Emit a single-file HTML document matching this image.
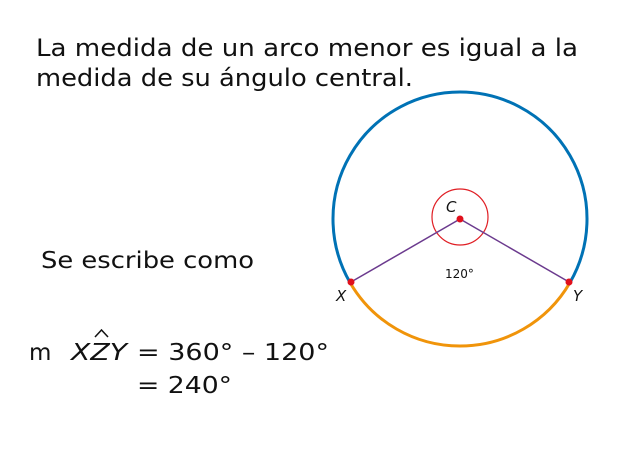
<!DOCTYPE html>
<html><head><meta charset="utf-8"><style>
body{margin:0;background:#fff}
svg{display:block}
text{font-family:"DejaVu Sans","Liberation Sans",sans-serif;fill:#111}
</style></head><body>
<svg width="643" height="450" viewBox="0 0 643 450">
<text x="36" y="56" font-size="24" textLength="542" lengthAdjust="spacingAndGlyphs">La medida de un arco menor es igual a la</text>
<text x="36" y="86" font-size="24" textLength="377" lengthAdjust="spacingAndGlyphs">medida de su ángulo central.</text>
<text x="41" y="268" font-size="23" textLength="213" lengthAdjust="spacingAndGlyphs">Se escribe como</text>
<g font-size="23">
<text x="29" y="360">m</text>
<text x="71" y="360" font-style="italic" textLength="56" lengthAdjust="spacingAndGlyphs">XZY</text>
<path d="M95 337 L101.5 330 L108 337" fill="none" stroke="#111" stroke-width="1.5"/>
<text x="137" y="360" textLength="192" lengthAdjust="spacingAndGlyphs">= 360° – 120°</text>
<text x="137" y="393" textLength="95" lengthAdjust="spacingAndGlyphs">= 240°</text>
</g>
<g>
<path d="M350.0 282.5 A127 127 0 1 1 570.0 282.5" fill="none" stroke="#0072b5" stroke-width="3"/>
<path d="M350.0 282.5 A127 127 0 0 0 570.0 282.5" fill="none" stroke="#f0940a" stroke-width="3"/>
<circle cx="460" cy="217" r="28" fill="none" stroke="#e01e24" stroke-width="1.2"/>
<line x1="460" y1="219" x2="351" y2="282" stroke="#6b3a8e" stroke-width="1.5"/>
<line x1="460" y1="219" x2="569" y2="282" stroke="#6b3a8e" stroke-width="1.5"/>
<circle cx="460" cy="219" r="3.5" fill="#e0101c"/>
<circle cx="351" cy="282" r="3.5" fill="#e0101c"/>
<circle cx="569" cy="282" r="3.5" fill="#e0101c"/>
<text x="446" y="212" font-size="15" font-style="italic">C</text>
<text x="336" y="301" font-size="15" font-style="italic">X</text>
<text x="573" y="301" font-size="15" font-style="italic">Y</text>
<text x="445" y="278" font-size="12">120°</text>
</g>
</svg>
</body></html>
